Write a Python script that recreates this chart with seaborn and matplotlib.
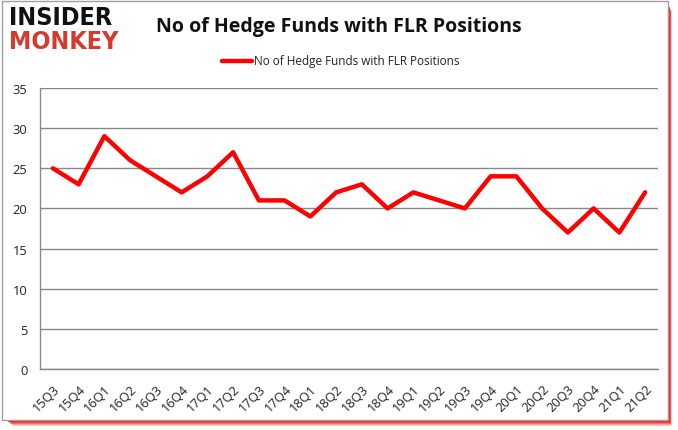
import matplotlib
matplotlib.use("Agg")
import matplotlib.pyplot as plt
import matplotlib.patches as mpatches
import seaborn as sns
import pandas as pd

quarters = ["15Q3", "15Q4", "16Q1", "16Q2", "16Q3", "16Q4", "17Q1", "17Q2",
            "17Q3", "17Q4", "18Q1", "18Q2", "18Q3", "18Q4", "19Q1", "19Q2",
            "19Q3", "19Q4", "20Q1", "20Q2", "20Q3", "20Q4", "21Q1", "21Q2"]
funds = [25, 23, 29, 26, 24, 22, 24, 27, 21, 21, 19, 22, 23, 20, 22, 21,
         20, 24, 24, 20, 17, 20, 17, 22]
series_name = "No of Hedge Funds with FLR Positions"
y_ticks = [0, 5, 10, 15, 20, 25, 30, 35]

sns.set_style("white")
plt.rcParams['font.family'] = ['Open Sans', 'DejaVu Sans']

df = pd.DataFrame({"quarter": quarters, "funds": funds})
df["pos"] = range(len(quarters))

fig = plt.figure(figsize=(6.78, 4.31), dpi=100, facecolor="white")
ax = fig.add_axes([40 / 678, 1 - 370 / 431, 618 / 678, 281 / 431])
ax.set_zorder(5)

# frame with red shadow on bottom/right
W, H = 678, 431
for i, a in enumerate([1.0, 0.8, 0.55, 0.3, 0.12]):
    off = i + 1
    fig.lines.append(plt.Line2D([(8 + off) / W, (668 + off * 0.6) / W, (668 + off * 0.6) / W],
                                [1 - (421 + off) / H, 1 - (421 + off) / H, 1 - (8 + off) / H],
                                transform=fig.transFigure, color="#ff1a1a",
                                alpha=a, lw=1.0 if i > 0 else 1.5, zorder=0))
fig.patches.append(mpatches.Rectangle((2 / W, 1 - 421 / H), 666 / W, 419 / H,
                                      transform=fig.transFigure, facecolor="none",
                                      edgecolor="#a0a0a0", lw=1.0, zorder=1))

sns.lineplot(data=df, x="pos", y="funds", ax=ax, color="#ff0000", lw=3.2,
             label=series_name, legend=False)

ax.set_xlim(-0.5, len(quarters) - 0.5)
ax.set_ylim(0, 35)
ax.set_yticks(y_ticks)
ax.set_xticks(range(len(quarters)))
ax.set_xticklabels(quarters, rotation=45, ha="right", rotation_mode="anchor",
                   fontsize=9.3, color="#222222")
ax.set_xticks([i - 0.5 for i in range(len(quarters) + 1)], minor=True)
ax.tick_params(axis="x", which="major", length=0, pad=9)
ax.tick_params(axis="x", which="minor", length=4, color="#888888", width=1)
ax.tick_params(axis="y", length=0, labelsize=9.3, colors="#222222", pad=9)
ax.set_xlabel("")
ax.set_ylabel("")
ax.patch.set_alpha(0)
ax.grid(axis="y", color="#888888", lw=1)
for s in ["top", "right"]:
    ax.spines[s].set_visible(False)
for s in ["left", "bottom"]:
    ax.spines[s].set_color("#888888")
    ax.spines[s].set_linewidth(1)

fig.text(0.5, 1 - 27 / H, "No of Hedge Funds with FLR Positions", ha="center",
         va="center", fontsize=14, fontweight="bold", color="#111111")

# legend
fig.lines.append(plt.Line2D([222 / W, 252 / W], [1 - 62 / H, 1 - 62 / H],
                            transform=fig.transFigure, color="#ff0000", lw=3.2))
fig.text(254 / W, 1 - 62 / H, series_name, ha="left", va="center",
         fontsize=8.5, color="#222222")

# logo
fig.text(9 / W, 1 - 18 / H, "INSIDER", ha="left", va="center", fontsize=18,
         fontweight="heavy", color="#111111", family="DejaVu Sans",
         fontstretch="condensed")
fig.text(9 / W, 1 - 42 / H, "MONKEY", ha="left", va="center", fontsize=18,
         fontweight="heavy", color="#d63a2c", family="DejaVu Sans",
         fontstretch="condensed")

fig.savefig("out.png", dpi=100)
